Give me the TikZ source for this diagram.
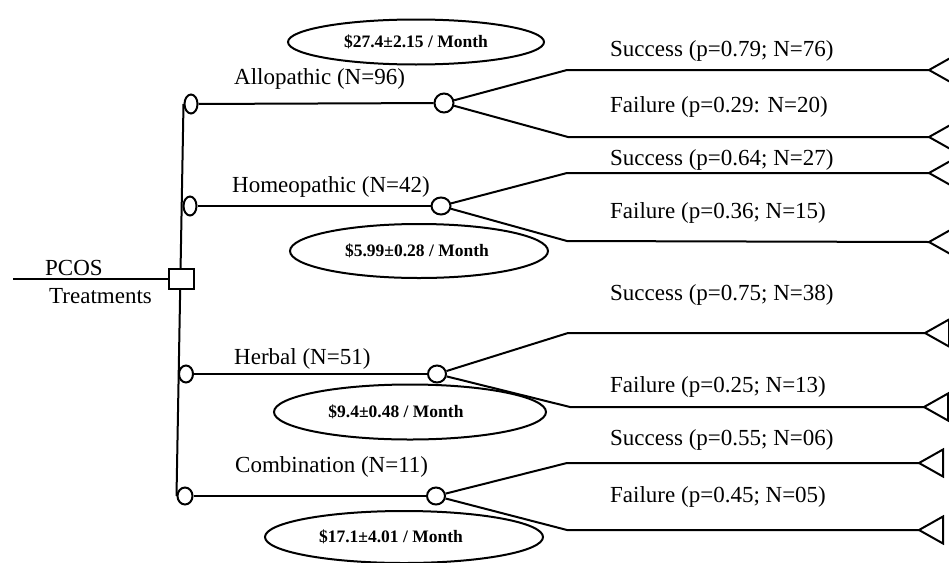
\documentclass[tikz,border=0pt]{standalone}
\usepackage{fontspec}
\setmainfont{Liberation Serif}
\usetikzlibrary{shapes.geometric}
\begin{document}
\begin{tikzpicture}[x=1pt,y=-1pt,
  ln/.style={line width=2pt, black},
  chance/.style={draw, line width=2pt, ellipse, inner sep=0pt, fill=white},
  decbox/.style={draw, line width=2pt, rectangle, inner sep=0pt, fill=white, minimum width=25pt, minimum height=20pt},
  lbl/.style={font=\fontsize{23}{27}\selectfont, anchor=west, inner sep=0pt},
  cost/.style={draw, line width=2pt, ellipse, inner sep=0pt},
  costtxt/.style={font=\bfseries\fontsize{17.5}{20}\selectfont, inner sep=0pt},
  term/.style={line width=2pt, line join=miter}
]
\clip (0,0) rectangle (949,562);
\fill[white] (0,0) rectangle (949,562);

% cost ellipses
\node[cost, minimum width=256pt, minimum height=45pt] (e1) at (416,42) {};
\node[costtxt] (t1) at (416,42) {\$27.4±2.15 / Month};
\node[cost, minimum width=258pt, minimum height=54pt] (e2) at (419,251) {};
\node[costtxt] (t2) at (417,251) {\$5.99±0.28 / Month};
\node[cost, minimum width=272pt, minimum height=55pt] (e3) at (410,412) {};
\node[costtxt] (t3) at (396,412) {\$9.4±0.48 / Month};
\node[cost, minimum width=278pt, minimum height=52pt] (e4) at (404,537) {};
\node[costtxt] (t4) at (391,537) {\$17.1±4.01 / Month};

% left chance nodes
\node[chance, minimum width=13pt, minimum height=19pt] (a1) at (191,104) {};
\node[chance, minimum width=13pt, minimum height=19pt] (a2) at (190,206) {};
\node[chance, minimum width=14pt, minimum height=17pt] (a3) at (186,374) {};
\node[chance, minimum width=15pt, minimum height=17pt] (a4) at (185,496) {};

% right chance nodes
\node[chance, minimum width=19pt, minimum height=19pt] (b1) at (444,103) {};
\node[chance, minimum width=19pt, minimum height=17pt] (b2) at (441,206) {};
\node[chance, minimum width=18pt, minimum height=17pt] (b3) at (437,374) {};
\node[chance, minimum width=18pt, minimum height=17pt] (b4) at (436,496) {};

% root
\coordinate (root) at (13,279);
\draw[ln] (a1.west) -- (a4.west);
\node[decbox] (sq) at (181,279) {};
\draw[ln] (root) -- (sq.west);
\node[lbl] (pcos) at (45,268) {PCOS};
\node[lbl] (treat) at (49,296) {Treatments};

% branches
\draw[ln] (a1) -- (b1);
\draw[ln] (a2) -- (b2);
\draw[ln] (a3) -- (b3);
\draw[ln] (a4) -- (b4);
\node[lbl] (l1) at (234,79) {Allopathic (N=96)};
\node[lbl] (l2) at (232,187) {Homeopathic (N=42)};
\node[lbl] (l3) at (234,359) {Herbal (N=51)};
\node[lbl] (l4) at (235,467) {Combination (N=11)};

% corners and terminals
\coordinate (c1s) at (567,70);  \coordinate (x1s) at (929,70);
\coordinate (c1f) at (568,137); \coordinate (x1f) at (929,137);
\coordinate (c2s) at (567,173); \coordinate (x2s) at (929,173);
\coordinate (c2f) at (567,241); \coordinate (x2f) at (929,242);
\coordinate (c3s) at (568,333); \coordinate (x3s) at (925,333);
\coordinate (c3f) at (570,407); \coordinate (x3f) at (924,407);
\coordinate (c4s) at (567,463); \coordinate (x4s) at (919,463);
\coordinate (c4f) at (567,530); \coordinate (x4f) at (919,530);

\foreach \i in {1,2,3,4}{
  \draw[ln] (b\i) -- (c\i s) -- (x\i s);
  \draw[ln] (b\i) -- (c\i f) -- (x\i f);
  \draw[term] (x\i s) -- ++(24,-13.5) -- ++(0,27) -- cycle;
  \draw[term] (x\i f) -- ++(24,-13.5) -- ++(0,27) -- cycle;
}

% outcome labels
\node[lbl] (o1s) at (610,51) {Success (p=0.79; N=76)};
\node[lbl] (o1f) at (610,107) {Failure (p=0.29: N=20)};
\node[lbl] (o2s) at (610,160) {Success (p=0.64; N=27)};
\node[lbl] (o2f) at (610,213) {Failure (p=0.36; N=15)};
\node[lbl] (o3s) at (610,295) {Success (p=0.75; N=38)};
\node[lbl] (o3f) at (610,387) {Failure (p=0.25; N=13)};
\node[lbl] (o4s) at (610,440) {Success (p=0.55; N=06)};
\node[lbl] (o4f) at (610,497) {Failure (p=0.45; N=05)};
\end{tikzpicture}
\end{document}
